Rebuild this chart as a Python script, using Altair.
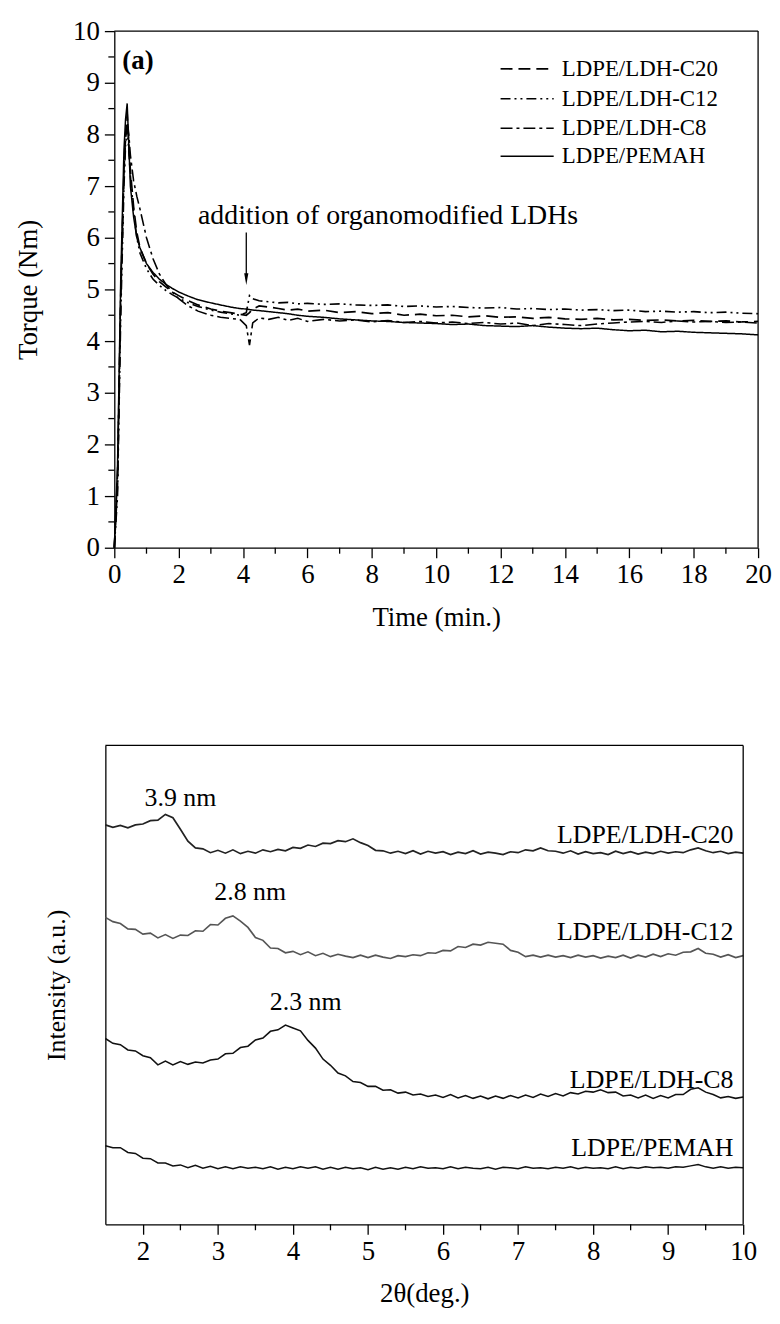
import altair as alt
import pandas as pd

FONT = "Liberation Serif"

# ---------------- top panel: torque vs time ----------------
series_top = ["LDPE/LDH-C20", "LDPE/LDH-C12", "LDPE/LDH-C8", "LDPE/PEMAH"]

time_min = [0, 0.1, 0.2, 0.3, 0.35, 0.4, 0.45, 0.5, 0.6, 0.7,
            0.8, 1.0, 1.2, 1.4, 1.6, 1.8, 2.0, 2.3, 2.6, 3.0,
            3.3, 3.6, 3.9, 4.1, 4.2, 4.3, 4.5, 4.8, 5.1, 5.4,
            5.7, 6.0, 6.5, 7.0, 7.5, 8.0, 8.5, 9.0, 9.5, 10.0,
            10.5, 11.0, 11.5, 12.0, 12.5, 13.0, 13.5, 14.0, 14.5, 15.0,
            15.5, 16.0, 16.5, 17.0, 17.5, 18.0, 18.5, 19.0, 19.5, 20.0]

torque_c20 = [0, 1.2, 4.8, 7.3, 8.0, 8.4, 7.8, 7.3, 6.6, 6.1,
              5.8, 5.5, 5.3, 5.15, 5.05, 4.95, 4.88, 4.78, 4.7, 4.62,
              4.58, 4.55, 4.52, 4.5, 4.55, 4.62, 4.68, 4.66, 4.63, 4.6,
              4.62, 4.58, 4.6, 4.55, 4.57, 4.53, 4.55, 4.5, 4.52, 4.49,
              4.5, 4.47, 4.49, 4.46, 4.47, 4.44, 4.46, 4.43, 4.42, 4.44,
              4.41, 4.42, 4.4, 4.41, 4.39, 4.4, 4.38, 4.39, 4.37, 4.38]
torque_c12 = [0, 1.0, 4.5, 7.0, 7.8, 8.1, 7.7, 7.2, 6.5, 6.0,
              5.7, 5.4, 5.2, 5.08, 4.98, 4.9, 4.83, 4.74, 4.67, 4.6,
              4.56, 4.53, 4.5, 4.55, 4.88, 4.82, 4.78, 4.76, 4.74, 4.75,
              4.72, 4.73, 4.71, 4.72, 4.7, 4.69, 4.7, 4.67, 4.68, 4.66,
              4.67, 4.65, 4.64, 4.65, 4.62, 4.63, 4.61, 4.62, 4.6, 4.61,
              4.59, 4.6, 4.57, 4.58, 4.56, 4.57, 4.55, 4.56, 4.54, 4.53]
torque_c8 = [0, 1.4, 5.0, 7.2, 7.9, 8.3, 8.0, 7.6, 7.1, 6.8,
             6.55, 6.0, 5.6, 5.3, 5.1, 4.95, 4.82, 4.68, 4.58, 4.5,
             4.46, 4.44, 4.42, 4.3, 3.92, 4.35, 4.45, 4.42, 4.46, 4.4,
             4.44, 4.38, 4.42, 4.39, 4.41, 4.37, 4.4, 4.36, 4.38, 4.35,
             4.37, 4.34, 4.36, 4.33, 4.35, 4.3, 4.34, 4.32, 4.3, 4.33,
             4.35, 4.37, 4.38, 4.36, 4.39, 4.37, 4.38, 4.36, 4.37, 4.35]
torque_pemah = [0, 1.6, 5.2, 7.7, 8.3, 8.6, 7.8, 7.0, 6.4, 6.0,
                5.8, 5.5, 5.33, 5.2, 5.1, 5.02, 4.95, 4.87, 4.8, 4.74,
                4.7, 4.66, 4.63, 4.62, 4.61, 4.6, 4.59, 4.57, 4.55, 4.53,
                4.5, 4.48, 4.46, 4.43, 4.41, 4.39, 4.38, 4.36, 4.35, 4.34,
                4.32, 4.33, 4.3, 4.29, 4.28, 4.3, 4.27, 4.25, 4.24, 4.25,
                4.22, 4.2, 4.21, 4.18, 4.19, 4.17, 4.16, 4.15, 4.14, 4.12]

top_major_x = [0, 2, 4, 6, 8, 10, 12, 14, 16, 18, 20]
top_minor_x = [1, 3, 5, 7, 9, 11, 13, 15, 17, 19]
top_major_y = [0, 1, 2, 3, 4, 5, 6, 7, 8, 9, 10]
top_minor_y = [0.5, 1.5, 2.5, 3.5, 4.5, 5.5, 6.5, 7.5, 8.5, 9.5]

# ---------------- bottom panel: XRD ----------------
series_bot = ["LDPE/LDH-C20", "LDPE/LDH-C12", "LDPE/LDH-C8", "LDPE/PEMAH"]
two_theta = [round(1.5 + 0.1 * i, 1) for i in range(86)]

int_c20 = [83.4, 82.9, 83.3, 82.8, 83.4, 83.6, 84.3, 84.4, 85.6, 84.9,
           82.5, 80.0, 78.6, 78.4, 77.6, 78.1, 77.5, 78.2, 77.4, 77.9,
           77.5, 78.2, 77.8, 78.3, 78.0, 78.7, 78.5, 79.2, 78.9, 79.6,
           79.5, 80.1, 79.9, 80.5, 79.7, 79.1, 78.1, 78.0, 77.5, 77.9,
           77.4, 78.0, 77.3, 77.9, 77.5, 77.8, 77.2, 77.7, 77.4, 78.0,
           77.3, 77.7, 77.5, 77.2, 77.8, 77.6, 78.2, 78.0, 78.6, 78.0,
           77.9, 77.5, 78.0, 77.3, 77.8, 77.4, 77.6, 77.2, 77.9, 77.4,
           77.8, 77.3, 77.7, 77.4, 77.9, 77.5, 77.8, 77.6, 78.2, 78.6,
           78.0, 77.6, 77.9, 77.4, 77.7, 77.5]
int_c12 = [64.1, 63.2, 62.8, 61.7, 61.6, 60.6, 60.8, 59.8, 60.5, 59.7,
           60.4, 60.3, 61.3, 61.2, 62.6, 62.5, 63.9, 64.4, 63.3, 62.0,
           59.9, 59.3, 57.7, 57.6, 56.7, 57.0, 56.3, 56.9, 56.1, 56.6,
           55.9, 56.4, 56.0, 55.7, 56.2, 55.7, 56.2, 55.8, 55.5, 56.1,
           55.9, 56.3, 56.1, 56.7, 56.6, 57.2, 57.1, 58.0, 57.8, 58.5,
           58.3, 58.9, 58.7, 58.5, 57.2, 56.8, 55.9, 56.2, 55.8, 56.2,
           55.8, 56.1, 55.7, 56.2, 55.8, 56.1, 55.6, 56.0, 55.7, 56.2,
           55.6, 56.2, 55.8, 56.4, 55.9, 56.5, 56.2, 56.8, 56.9, 57.6,
           56.6, 56.4, 55.8, 56.3, 55.7, 56.1]
int_c8 = [38.8, 37.8, 37.5, 36.4, 36.2, 35.2, 34.8, 33.3, 34.1, 33.3,
          34.0, 33.4, 33.9, 33.7, 34.3, 34.5, 35.6, 35.7, 36.9, 37.2,
          38.5, 38.9, 40.3, 40.6, 41.6, 41.0, 40.4, 38.4, 36.8, 34.5,
          33.2, 31.6, 31.0, 29.8, 29.6, 28.8, 28.8, 28.0, 28.1, 27.4,
          27.6, 27.0, 27.2, 26.7, 27.0, 26.5, 27.1, 26.4, 26.9, 26.3,
          26.8, 26.2, 26.8, 26.3, 26.9, 26.4, 27.0, 26.5, 27.2, 26.7,
          27.3, 26.8, 27.5, 27.2, 27.8, 27.6, 28.1, 27.5, 27.6, 26.8,
          27.0, 26.4, 27.0, 26.3, 26.9, 26.4, 27.1, 27.1, 28.2, 28.5,
          27.6, 27.1, 26.4, 26.7, 26.3, 26.6]
int_pemah = [16.4, 16.0, 16.0, 15.0, 14.8, 13.8, 13.7, 12.8, 12.8, 12.2,
             12.4, 11.8, 12.3, 11.7, 12.1, 11.6, 12.0, 11.6, 12.0, 11.7,
             11.9, 11.6, 12.0, 11.5, 11.9, 11.6, 12.0, 11.7, 12.0, 11.5,
             11.9, 11.5, 11.9, 11.6, 11.8, 11.4, 11.9, 11.5, 11.8, 11.5,
             11.9, 11.6, 12.0, 11.7, 11.8, 11.6, 12.0, 11.6, 11.9, 11.7,
             11.6, 11.9, 11.5, 11.9, 11.8, 11.6, 12.0, 11.7, 11.8, 11.6,
             11.9, 11.7, 12.0, 11.6, 11.9, 11.7, 11.8, 11.6, 12.0, 11.6,
             11.9, 11.7, 12.0, 11.8, 11.9, 11.7, 12.0, 11.9, 12.2, 12.5,
             12.0, 11.7, 12.0, 11.7, 11.9, 11.8]

bot_major_x = [2, 3, 4, 5, 6, 7, 8, 9, 10]
bot_minor_x = [2.5, 3.5, 4.5, 5.5, 6.5, 7.5, 8.5, 9.5]

peak_labels = ["3.9 nm", "2.8 nm", "2.3 nm"]
peak_x = [2.5, 3.43, 4.17]
peak_y = [89.0, 69.3, 46.5]
trace_label_x = 9.87
trace_label_y = [81.3, 61.0, 30.1, 16.0]

# ---------------- build tables ----------------
top_rows = []
for name, vals in zip(series_top, [torque_c20, torque_c12, torque_c8, torque_pemah]):
    for t, v in zip(time_min, vals):
        top_rows.append({"time": t, "torque": v, "series": name})
top_df = pd.DataFrame(top_rows)

bot_rows = []
for name, vals in zip(series_bot, [int_c20, int_c12, int_c8, int_pemah]):
    for t, v in zip(two_theta, vals):
        bot_rows.append({"theta": t, "intensity": v, "series": name})
bot_df = pd.DataFrame(bot_rows)

# layout (pixels): top plot is shifted 9px right of the bottom plot
SHIFT = 9
W1, H1 = 648, 520
W2, H2 = 642, 482
WT = W1 + SHIFT

dash_scale = alt.Scale(domain=series_top,
                       range=[[12, 6], [10, 4, 2, 4, 2, 4], [12, 4, 3, 4], [1, 0]])
width_scale = alt.Scale(domain=series_top, range=[1.7, 1.5, 1.7, 2.2])

x_top = alt.X("time:Q", scale=alt.Scale(domain=[0, 20], nice=False, range=[SHIFT, WT]),
              axis=alt.Axis(values=top_major_x, title="Time (min.)", tickSize=10,
                            labelPadding=4, titlePadding=17, labelFlush=False,
                            labelOverlap=False, format="d"))
y_top = alt.Y("torque:Q", scale=alt.Scale(domain=[0, 10], nice=False),
              axis=alt.Axis(values=top_major_y, title="Torque (Nm)", tickSize=10,
                            labelPadding=5, titlePadding=30, minExtent=0, offset=-SHIFT,
                            labelOverlap=False, format="d"))

lines_top = alt.Chart(top_df).mark_line(color="black", strokeCap="butt").encode(
    x=x_top, y=y_top,
    strokeDash=alt.StrokeDash("series:N", scale=dash_scale, legend=None),
    strokeWidth=alt.StrokeWidth("series:N", scale=width_scale, legend=None),
)

minor_x_top = alt.Chart(pd.DataFrame({"time": top_minor_x})).mark_rule(
    color="black", strokeWidth=1.3).encode(
    x="time:Q", y=alt.value(H1), y2=alt.value(H1 + 6))
minor_y_top = alt.Chart(pd.DataFrame({"torque": top_minor_y})).mark_rule(
    color="black", strokeWidth=1.3).encode(
    y="torque:Q", x=alt.value(SHIFT - 6), x2=alt.value(SHIFT))

# frame: top and right edges of the box
frame_top = alt.Chart(pd.DataFrame({"k": [0]})).mark_rule(color="black", strokeWidth=1.3).encode(
    x=alt.value(SHIFT), x2=alt.value(WT), y=alt.value(0))
frame_right = alt.Chart(pd.DataFrame({"k": [0]})).mark_rule(color="black", strokeWidth=1.3).encode(
    x=alt.value(WT), y=alt.value(0), y2=alt.value(H1))

label_a = alt.Chart(pd.DataFrame({"time": [0.25], "torque": [9.42], "t": ["(a)"]})).mark_text(
    font=FONT, fontSize=27, fontWeight="bold", align="left", baseline="middle",
    color="black").encode(x="time:Q", y="torque:Q", text="t:N")
label_add = alt.Chart(pd.DataFrame({"time": [2.6], "torque": [6.42],
                                    "t": ["addition of organomodified LDHs"]})).mark_text(
    font=FONT, fontSize=28, align="left", baseline="middle", color="black").encode(
    x="time:Q", y="torque:Q", text="t:N")
arrow_line = alt.Chart(pd.DataFrame({"time": [4.1], "torque": [6.1], "torque_end": [5.2]})).mark_rule(
    color="black", strokeWidth=1.3).encode(x="time:Q", y="torque:Q", y2="torque_end:Q")
arrow_head = alt.Chart(pd.DataFrame({"time": [4.1], "torque": [5.2]})).mark_point(
    shape="M-0.35,-1L0.35,-1L0,1Z", size=144, filled=True, color="black", opacity=1).encode(
    x="time:Q", y="torque:Q")

leg_torque = [9.27, 8.69, 8.12, 7.58]
leg_df = pd.DataFrame({"series": series_top, "time": [12.0] * 4, "time_end": [13.65] * 4,
                       "torque": leg_torque})
leg_lines = alt.Chart(leg_df).mark_rule(color="black", strokeCap="butt").encode(
    x="time:Q", x2="time_end:Q", y="torque:Q",
    strokeDash=alt.StrokeDash("series:N", scale=dash_scale, legend=None),
    strokeWidth=alt.StrokeWidth("series:N", scale=width_scale, legend=None))
leg_text_df = pd.DataFrame({"series": series_top, "time": [13.9] * 4, "torque": leg_torque})
leg_text = alt.Chart(leg_text_df).mark_text(font=FONT, fontSize=23, align="left",
                                           baseline="middle", color="black").encode(
    x="time:Q", y="torque:Q", text="series:N")

top = alt.layer(lines_top, minor_x_top, minor_y_top, frame_top, frame_right, label_a,
                label_add, arrow_line, arrow_head, leg_lines, leg_text).properties(
    width=WT, height=H1)

# bottom
color_scale = alt.Scale(domain=series_bot, range=["#222222", "#555555", "#111111", "#111111"])
bw_scale = alt.Scale(domain=series_bot, range=[1.2, 1.0, 1.3, 1.3])

x_bot = alt.X("theta:Q", scale=alt.Scale(domain=[1.5, 10], nice=False),
              axis=alt.Axis(values=bot_major_x, title="2θ(deg.)", tickSize=10,
                            labelPadding=4, titlePadding=17, labelFlush=False,
                            labelOverlap=False, format="d"))
y_bot = alt.Y("intensity:Q", scale=alt.Scale(domain=[0, 100], nice=False),
              axis=alt.Axis(title="Intensity (a.u.)", ticks=False, labels=False,
                            titlePadding=36, minExtent=0, titleFontSize=26))

lines_bot = alt.Chart(bot_df).mark_line().encode(
    x=x_bot, y=y_bot,
    color=alt.Color("series:N", scale=color_scale, legend=None),
    strokeWidth=alt.StrokeWidth("series:N", scale=bw_scale, legend=None),
    detail="series:N")
minor_x_bot = alt.Chart(pd.DataFrame({"theta": bot_minor_x})).mark_rule(
    color="black", strokeWidth=1.3).encode(
    x="theta:Q", y=alt.value(H2), y2=alt.value(H2 + 6))
frame_top_b = alt.Chart(pd.DataFrame({"k": [0]})).mark_rule(color="black", strokeWidth=1.3).encode(
    x=alt.value(0), x2=alt.value(W2), y=alt.value(0))
frame_right_b = alt.Chart(pd.DataFrame({"k": [0]})).mark_rule(color="black", strokeWidth=1.3).encode(
    x=alt.value(W2), y=alt.value(0), y2=alt.value(H2))
peaks = alt.Chart(pd.DataFrame({"theta": peak_x, "intensity": peak_y, "t": peak_labels})).mark_text(
    font=FONT, fontSize=26, align="center", baseline="middle", color="black").encode(
    x="theta:Q", y="intensity:Q", text="t:N")
trace_labels = alt.Chart(pd.DataFrame({"theta": [trace_label_x] * 4, "intensity": trace_label_y,
                                       "t": series_bot})).mark_text(
    font=FONT, fontSize=26, align="right", baseline="middle", color="black").encode(
    x="theta:Q", y="intensity:Q", text="t:N")

bottom = alt.layer(lines_bot, minor_x_bot, frame_top_b, frame_right_b, peaks,
                   trace_labels).properties(width=W2, height=H2)

chart = alt.ConcatChart(concat=[top, bottom], columns=1, align="all", spacing=115).properties(
    padding={"left": 7, "top": 5, "right": 0, "bottom": 0}
).configure_view(strokeWidth=0).configure_axis(
    domainColor="black", tickColor="black", labelColor="black", titleColor="black",
    domainWidth=1.3, tickWidth=1.3, labelFont=FONT, titleFont=FONT,
    labelFontSize=27, titleFontSize=27, titleFontWeight="normal", grid=False)

chart.save("out.html", embed_options={"renderer": "svg", "actions": False})
